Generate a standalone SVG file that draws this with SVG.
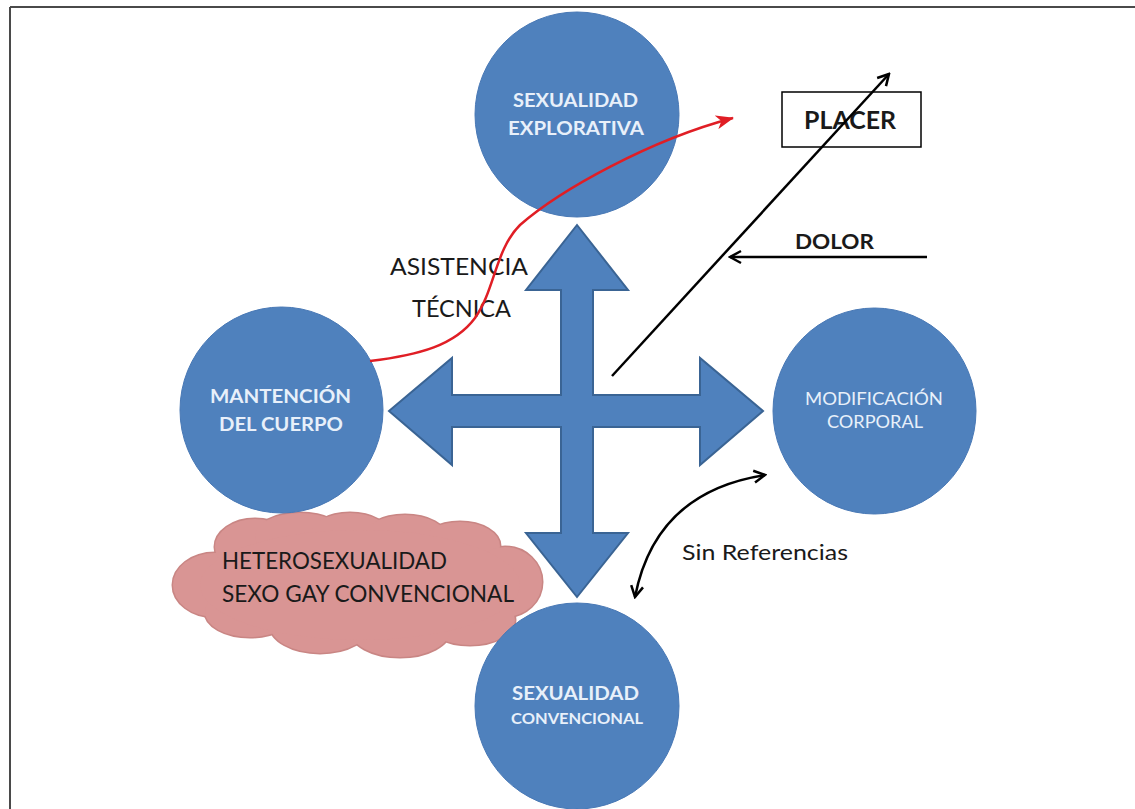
<svg xmlns="http://www.w3.org/2000/svg" width="1135" height="809" viewBox="0 0 1135 809">
<style>
.node{fill:#4F81BD;stroke:#4878B5;stroke-width:1}
.ntxt{font-family:Lato,"Liberation Sans",sans-serif;fill:#E8F0FA;font-weight:bold;text-anchor:middle}
.lbl{font-family:Lato,"Liberation Sans",sans-serif;fill:#1A1A1A}
.blk{fill:none;stroke:#000;stroke-width:2.5}
.cl{fill:#D99594}
.clo{fill:#C98684;stroke:#C98684;stroke-width:3}
</style>
<defs>
<marker id="vopen" viewBox="0 0 16 16" refX="14" refY="8" markerWidth="16" markerHeight="16" markerUnits="userSpaceOnUse" orient="auto-start-reverse">
<path d="M3,2 L14,8 L3,14" fill="none" stroke="#000" stroke-width="2.5"/>
</marker>
<marker id="redhead" viewBox="0 0 18 14" refX="17" refY="7" markerWidth="18" markerHeight="14" markerUnits="userSpaceOnUse" orient="auto">
<path d="M0,0 L18,7 L0,14 L5,7 Z" fill="#E01E25"/>
</marker>
</defs>
<rect width="1135" height="809" fill="#FFFFFF"/>
<g id="frame">
<line x1="10" y1="7" x2="1135" y2="7" stroke="#4A4A4A" stroke-width="2"/>
<line x1="10" y1="7" x2="10" y2="809" stroke="#4A4A4A" stroke-width="2"/>
</g>
<g id="cloud">
<g class="clo">
<ellipse cx="215" cy="585" rx="42" ry="32"/>
<ellipse cx="255" cy="547" rx="40" ry="28"/>
<ellipse cx="300" cy="536" rx="45" ry="23"/>
<ellipse cx="350" cy="536" rx="40" ry="23"/>
<ellipse cx="405" cy="538" rx="42" ry="23"/>
<ellipse cx="460" cy="546" rx="40" ry="24"/>
<ellipse cx="505" cy="582" rx="37" ry="35"/>
<ellipse cx="470" cy="620" rx="45" ry="25"/>
<ellipse cx="400" cy="630" rx="50" ry="27"/>
<ellipse cx="320" cy="625" rx="50" ry="28"/>
<ellipse cx="250" cy="612" rx="45" ry="25"/>
</g>
<g class="cl">
<ellipse cx="215" cy="585" rx="42" ry="32"/>
<ellipse cx="255" cy="547" rx="40" ry="28"/>
<ellipse cx="300" cy="536" rx="45" ry="23"/>
<ellipse cx="350" cy="536" rx="40" ry="23"/>
<ellipse cx="405" cy="538" rx="42" ry="23"/>
<ellipse cx="460" cy="546" rx="40" ry="24"/>
<ellipse cx="505" cy="582" rx="37" ry="35"/>
<ellipse cx="470" cy="620" rx="45" ry="25"/>
<ellipse cx="400" cy="630" rx="50" ry="27"/>
<ellipse cx="320" cy="625" rx="50" ry="28"/>
<ellipse cx="250" cy="612" rx="45" ry="25"/>
<ellipse cx="360" cy="585" rx="160" ry="55"/>
</g>
<text class="lbl" x="222" y="569" font-size="23" textLength="225" lengthAdjust="spacingAndGlyphs" fill="#2A1414">HETEROSEXUALIDAD</text>
<text class="lbl" x="222" y="602" font-size="23" textLength="292" lengthAdjust="spacingAndGlyphs" fill="#2A1414">SEXO GAY CONVENCIONAL</text>
</g>
<g id="node-explorativa">
<ellipse class="node" cx="577" cy="114.5" rx="102" ry="102.5"/>
<text class="ntxt" x="575.5" y="107" font-size="19" textLength="125" lengthAdjust="spacingAndGlyphs">SEXUALIDAD</text>
<text class="ntxt" x="576" y="135" font-size="19" textLength="136" lengthAdjust="spacingAndGlyphs">EXPLORATIVA</text>
</g>
<g id="node-mantencion">
<ellipse class="node" cx="281.5" cy="410" rx="101.5" ry="103"/>
<text class="ntxt" x="280.5" y="403" font-size="19" textLength="141" lengthAdjust="spacingAndGlyphs">MANTENCIÓN</text>
<text class="ntxt" x="281" y="431" font-size="19" textLength="124" lengthAdjust="spacingAndGlyphs">DEL CUERPO</text>
</g>
<g id="node-modificacion">
<ellipse class="node" cx="874.5" cy="411" rx="101.5" ry="103"/>
<text class="ntxt" x="874" y="405" font-size="18" font-weight="normal" textLength="138" lengthAdjust="spacingAndGlyphs" style="font-weight:normal">MODIFICACIÓN</text>
<text class="ntxt" x="875" y="428" font-size="18" textLength="96" lengthAdjust="spacingAndGlyphs" style="font-weight:normal">CORPORAL</text>
</g>
<g id="node-convencional">
<ellipse class="node" cx="577" cy="706" rx="102" ry="103"/>
<text class="ntxt" x="575.5" y="700" font-size="19" textLength="127" lengthAdjust="spacingAndGlyphs">SEXUALIDAD</text>
<text class="ntxt" x="577" y="724" font-size="15" textLength="132" lengthAdjust="spacingAndGlyphs">CONVENCIONAL</text>
</g>
<g id="cross">
<polygon points="577,225 628,290 593,290 593,395 700,395 700,358 763,411 700,465 700,427 593,427 593,533 628,533 577,597 526,533 561,533 561,427 452,427 452,465 389,411 452,358 452,395 561,395 561,290 526,290" fill="#4F81BD" stroke="#3A6494" stroke-width="2" stroke-linejoin="miter"/>
</g>
<g id="node-placer">
<rect x="782" y="92" width="139" height="55" fill="#FFFFFF" stroke="#000" stroke-width="1.5"/>
<text class="lbl" x="804" y="129" font-size="25" font-weight="bold" textLength="92" lengthAdjust="spacingAndGlyphs" fill="#000">PLACER</text>
</g>
<g id="labels">
<text class="lbl" x="390" y="275" font-size="23" textLength="138" lengthAdjust="spacingAndGlyphs">ASISTENCIA</text>
<text class="lbl" x="412" y="317" font-size="23" textLength="99" lengthAdjust="spacingAndGlyphs">TÉCNICA</text>
<text class="lbl" x="795" y="249" font-size="21" font-weight="bold" textLength="79" lengthAdjust="spacingAndGlyphs" fill="#000">DOLOR</text>
<text class="lbl" x="682" y="560" font-size="22" textLength="166" lengthAdjust="spacingAndGlyphs">Sin Referencias</text>
</g>
<g id="connectors">
<path d="M370,361 C420,355 455,345 475,318 C495,290 495,250 520,225 C560,190 650,140 733,118" fill="none" stroke="#E01E25" stroke-width="2.5" marker-end="url(#redhead)"/>
<line class="blk" x1="612" y1="376" x2="889" y2="74" marker-end="url(#vopen)"/>
<line class="blk" x1="927" y1="257" x2="730" y2="257" stroke-width="3" marker-end="url(#vopen)"/>
<path class="blk" d="M765,475 C700,485 650,520 635,597" marker-start="url(#vopen)" marker-end="url(#vopen)"/>
</g>
</svg>
